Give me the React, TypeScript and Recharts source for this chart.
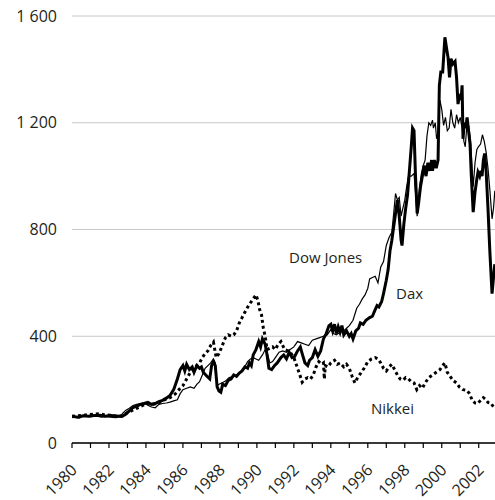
import React from "react";
import {
  LineChart,
  Line,
  XAxis,
  YAxis,
  CartesianGrid,
} from "recharts";

// index values, 1980 = 100 (x = decimal year)
const daxYears = [
  1980.0, 1980.3, 1980.6, 1980.9, 1981.2, 1981.5, 1981.8, 1982.1, 1982.4, 1982.7, 1982.9,
  1983.1, 1983.3, 1983.5, 1983.7, 1983.9, 1984.1, 1984.3, 1984.5, 1984.7, 1984.9,
  1985.1, 1985.3, 1985.5, 1985.7, 1985.85, 1986.0, 1986.1, 1986.2, 1986.35, 1986.5,
  1986.6, 1986.75, 1986.9, 1987.0, 1987.1, 1987.3, 1987.45, 1987.55, 1987.65, 1987.75,
  1987.85, 1987.95, 1988.05, 1988.15, 1988.3, 1988.45, 1988.6, 1988.75, 1988.9, 1989.05,
  1989.2, 1989.35, 1989.5, 1989.6, 1989.7, 1989.8, 1989.95, 1990.1, 1990.2, 1990.3,
  1990.45, 1990.55, 1990.65, 1990.8, 1990.95, 1991.1, 1991.3, 1991.45, 1991.6, 1991.75,
  1991.9, 1992.05, 1992.2, 1992.35, 1992.45, 1992.6, 1992.75, 1992.85, 1993.0, 1993.15,
  1993.3, 1993.45, 1993.6, 1993.75, 1993.9, 1994.0, 1994.1, 1994.2, 1994.3, 1994.4,
  1994.5, 1994.6, 1994.7, 1994.85, 1995.0, 1995.1, 1995.2, 1995.35, 1995.5, 1995.6,
  1995.75, 1995.9, 1996.1, 1996.25, 1996.4, 1996.5, 1996.6, 1996.75, 1996.85, 1997.0,
  1997.1, 1997.2, 1997.3, 1997.4, 1997.5, 1997.6, 1997.7, 1997.8, 1997.85, 1997.95,
  1998.05, 1998.15, 1998.25, 1998.35, 1998.42, 1998.5, 1998.58, 1998.67, 1998.75, 1998.85,
  1998.95, 1999.05, 1999.15, 1999.25, 1999.35, 1999.45, 1999.5, 1999.6, 1999.7, 1999.8,
  1999.87, 1999.95, 2000.05, 2000.17, 2000.28, 2000.34, 2000.42, 2000.5, 2000.6, 2000.72,
  2000.8, 2000.88, 2000.95, 2001.05, 2001.1, 2001.15, 2001.22, 2001.3, 2001.37, 2001.45,
  2001.53, 2001.6, 2001.7, 2001.8, 2001.9, 2001.96, 2002.05, 2002.12, 2002.18, 2002.25,
  2002.32, 2002.4, 2002.5, 2002.6, 2002.72, 2002.8, 2002.87,
];
const daxValues = [
  100, 97, 102, 100, 103, 104, 100, 103, 101, 99, 108,
  120, 133, 138, 145, 148, 152, 145, 148, 155, 160,
  168, 178, 200, 240, 275, 290, 270, 295, 275, 285,
  265, 290, 280, 285, 265, 250, 240, 290, 305, 290,
  210, 195, 190, 220, 215, 235, 240, 255, 250, 262,
  270, 285, 280, 300, 290, 330, 350, 380, 360, 390,
  370, 330, 280, 275, 290, 300, 320, 330, 315, 340,
  320, 325, 345, 360, 335, 300, 290, 310, 320, 350,
  325, 345, 390, 410, 440, 445, 420, 445, 410, 435,
  415, 440, 405, 420, 400, 410, 390, 420, 430, 450,
  445, 460, 470, 475, 500, 515, 510, 530, 560, 610,
  650, 720, 760, 810, 860, 910, 850, 760, 740, 820,
  880, 930, 1020, 1110, 1180, 1170, 1000, 860, 900, 960,
  1000, 1040, 1000, 1050, 1020, 1060, 1020, 1060, 1030, 1060,
  1340, 1390, 1390, 1520, 1470, 1445, 1370, 1440, 1420, 1430,
  1370, 1270, 1300, 1290, 1340, 1140, 1200, 1180, 1220, 1170,
  1120, 1000, 865, 940, 990, 1015, 1000, 1020, 1000, 1060,
  1085, 1020, 880, 720, 560, 620, 670,
];

const dowYears = [
  1980.0, 1980.2, 1980.4, 1980.6, 1980.8, 1981.0, 1981.2, 1981.4, 1981.6, 1981.8,
  1982.0, 1982.2, 1982.4, 1982.6, 1982.75, 1982.9, 1983.1, 1983.3, 1983.5, 1983.7,
  1983.9, 1984.1, 1984.3, 1984.5, 1984.7, 1984.9, 1985.1, 1985.3, 1985.5, 1985.7,
  1985.85, 1986.0, 1986.2, 1986.4, 1986.6, 1986.75, 1986.9, 1987.05, 1987.2, 1987.35,
  1987.5, 1987.65, 1987.75, 1987.85, 1987.95, 1988.1, 1988.3, 1988.5, 1988.7, 1988.9,
  1989.1, 1989.3, 1989.5, 1989.65, 1989.8, 1989.95, 1990.1, 1990.3, 1990.45, 1990.55,
  1990.7, 1990.85, 1991.0, 1991.2, 1991.4, 1991.6, 1991.8, 1992.0, 1992.2, 1992.4,
  1992.6, 1992.8, 1993.0, 1993.2, 1993.4, 1993.6, 1993.8, 1994.0, 1994.15, 1994.3,
  1994.5, 1994.7, 1994.85, 1995.0, 1995.2, 1995.4, 1995.55, 1995.7, 1995.85, 1996.0,
  1996.1, 1996.25, 1996.4, 1996.55, 1996.7, 1996.85, 1997.0, 1997.15, 1997.3, 1997.4,
  1997.5, 1997.6, 1997.7, 1997.8, 1997.9, 1998.0, 1998.1, 1998.2, 1998.35, 1998.5,
  1998.6, 1998.67, 1998.8, 1998.9, 1999.0, 1999.1, 1999.2, 1999.3, 1999.4, 1999.5,
  1999.55, 1999.65, 1999.72, 1999.8, 1999.9, 2000.0, 2000.1, 2000.2, 2000.3, 2000.4,
  2000.5, 2000.6, 2000.7, 2000.8, 2000.9, 2001.0, 2001.1, 2001.2, 2001.27, 2001.37,
  2001.45, 2001.55, 2001.6, 2001.7, 2001.8, 2001.9, 2001.98, 2002.1, 2002.2, 2002.3,
  2002.4, 2002.5, 2002.6, 2002.72, 2002.8, 2002.87,
];
const dowValues = [
  95, 98, 93, 100, 102, 98, 103, 100, 97, 100,
  98, 96, 95, 99, 112, 122, 130, 140, 145, 148,
  150, 142, 135, 132, 145, 148, 150, 153, 158, 162,
  185, 200, 205, 210, 205, 220, 230, 255, 280, 290,
  300, 315, 300, 215, 220, 225, 232, 245, 248, 255,
  265, 280, 305, 315, 320, 315, 310, 330, 350, 340,
  300, 305, 320, 340, 345, 340, 350, 360, 380, 375,
  370, 365, 385, 390, 395, 400, 405, 425, 410, 405,
  415, 420, 430, 440, 460, 505, 520, 540, 555, 580,
  615, 620, 625, 600, 660, 680, 740, 770, 790, 860,
  935, 910, 920, 850, 880, 910, 960, 1000, 1000, 1010,
  920, 850, 960, 1010, 1040, 1060, 1150, 1200, 1190, 1210,
  1180, 1200, 1140, 1160, 1285, 1250, 1190, 1220, 1170, 1180,
  1250, 1200, 1180, 1230, 1200, 1220, 1180, 1130, 1110, 1200,
  1190, 1140, 1080, 960, 1050, 1100, 1110, 1120, 1155, 1130,
  1090, 1030, 950, 840, 880, 945,
];

const nikkeiYears = [
  1980.0, 1980.3, 1980.6, 1980.9, 1981.2, 1981.5, 1981.8, 1982.1, 1982.4, 1982.7,
  1982.9, 1983.2, 1983.5, 1983.8, 1984.1, 1984.4, 1984.7, 1985.0, 1985.3, 1985.6,
  1985.85, 1986.0, 1986.2, 1986.4, 1986.6, 1986.75, 1986.9, 1987.05, 1987.2, 1987.35,
  1987.5, 1987.65, 1987.8, 1987.95, 1988.1, 1988.3, 1988.45, 1988.6, 1988.75, 1988.9,
  1989.05, 1989.2, 1989.35, 1989.55, 1989.75, 1989.95, 1990.05, 1990.15, 1990.25, 1990.35,
  1990.45, 1990.55, 1990.7, 1990.85, 1991.0, 1991.15, 1991.3, 1991.5, 1991.7, 1991.85,
  1992.0, 1992.15, 1992.3, 1992.45, 1992.6, 1992.75, 1992.9, 1993.05, 1993.2, 1993.35,
  1993.5, 1993.6, 1993.65, 1993.7, 1993.85, 1994.0, 1994.2, 1994.35, 1994.5, 1994.7,
  1994.85, 1995.0, 1995.15, 1995.3, 1995.45, 1995.6, 1995.8, 1996.0, 1996.2, 1996.4,
  1996.55, 1996.7, 1996.85, 1997.0, 1997.15, 1997.3, 1997.45, 1997.6, 1997.75, 1997.9,
  1998.05, 1998.2, 1998.35, 1998.5, 1998.65, 1998.8, 1998.95, 1999.1, 1999.3, 1999.5,
  1999.7, 1999.9, 2000.05, 2000.17, 2000.3, 2000.45, 2000.6, 2000.8, 2000.95, 2001.15,
  2001.35, 2001.5, 2001.65, 2001.8, 2001.95, 2002.1, 2002.25, 2002.35, 2002.5, 2002.65,
  2002.75, 2002.87,
];
const nikkeiValues = [
  100, 102, 104, 107, 108, 110, 105, 104, 100, 102,
  110, 120, 130, 140, 150, 145, 150, 162, 170, 185,
  205, 215, 240, 265, 280, 290, 300, 320, 335, 345,
  365, 378, 320, 335, 360, 395, 405, 400, 405, 420,
  450, 470, 490, 515, 535, 555, 535, 500, 480, 430,
  400, 350, 355, 360, 350, 370, 380, 350, 345, 335,
  320, 290, 260, 228, 240, 245, 240, 255, 285, 305,
  295, 300, 240, 290, 285, 300, 310, 295, 300, 285,
  295, 280, 250, 225, 245, 260, 280, 305, 315, 320,
  315, 300, 280, 270, 285, 295, 275, 255, 240, 235,
  245, 240, 230, 225, 200, 215, 205, 225, 245, 255,
  265, 275, 290, 300, 265, 250, 235, 225, 210, 200,
  198, 185, 160, 150, 148, 160, 170, 165, 152, 150,
  140, 130,
];

const yearTicks = [
  1980, 1981, 1982, 1983, 1984, 1985, 1986, 1987, 1988, 1989, 1990, 1991,
  1992, 1993, 1994, 1995, 1996, 1997, 1998, 1999, 2000, 2001, 2002,
];
const valueTicks = [0, 400, 800, 1200, 1600];

const toRows = (xs: number[], vs: number[]) => xs.map((x, i) => ({ x, v: vs[i] }));
const dax = toRows(daxYears, daxValues);
const dow = toRows(dowYears, dowValues);
const nikkei = toRows(nikkeiYears, nikkeiValues);

const W = 495;
const H = 500;
const AXIS_H = 57;
const font = "'Open Sans', 'DejaVu Sans', sans-serif";
const textColor = "#231f20";

function fmt(v: number) {
  return v >= 1000 ? `${Math.floor(v / 1000)} ${String(v % 1000).padStart(3, "0")}` : String(v);
}

// rotated year labels, only every second year; their top right corner sits just below the tick
function YearTick({ x, payload }: any) {
  if (payload.value % 2 !== 0) return null;
  const tx = x + 6;
  const ty = H - AXIS_H + 28;
  return (
    <text
      x={tx}
      y={ty}
      transform={`rotate(-45, ${tx}, ${ty})`}
      textAnchor="end"
      fontSize={16}
      fontFamily={font}
      fill={textColor}
    >
      {payload.value}
    </text>
  );
}

function SeriesLabel({ left, top, text }: { left: number; top: number; text: string }) {
  return (
    <div
      style={{
        position: "absolute",
        left,
        top,
        fontFamily: font,
        fontSize: 15,
        lineHeight: "15px",
        color: textColor,
        whiteSpace: "nowrap",
      }}
    >
      {text}
    </div>
  );
}

export default function App() {
  return (
    <div style={{ position: "absolute", left: 0, top: 0, width: W, height: H, background: "#fff" }}>
      <LineChart width={W} height={H} margin={{ top: 16, right: 0, bottom: 0, left: 0 }}>
        <CartesianGrid vertical={false} stroke="#c8c8c8" strokeWidth={1} />
        <XAxis
          type="number"
          dataKey="x"
          domain={[1980, 2002.88]}
          ticks={yearTicks}
          interval={0}
          height={AXIS_H}
          tickSize={5}
          tickLine={{ stroke: "#000", strokeWidth: 1.2 }}
          axisLine={{ stroke: "#000", strokeWidth: 1.5 }}
          tick={<YearTick />}
          allowDataOverflow
        />
        <YAxis
          type="number"
          domain={[0, 1600]}
          ticks={valueTicks}
          width={72}
          axisLine={false}
          tickLine={false}
          tickMargin={9}
          tickFormatter={fmt}
          tick={{ fontSize: 16, fontFamily: font, fill: textColor }}
        />
        <Line
          data={nikkei}
          dataKey="v"
          type="linear"
          stroke="#000"
          strokeWidth={3}
          strokeDasharray="3 3"
          dot={false}
          isAnimationActive={false}
        />
        <Line
          data={dow}
          dataKey="v"
          type="linear"
          stroke="#000"
          strokeWidth={1.2}
          dot={false}
          isAnimationActive={false}
        />
        <Line
          data={dax}
          dataKey="v"
          type="linear"
          stroke="#000"
          strokeWidth={3}
          strokeLinejoin="miter"
          dot={false}
          isAnimationActive={false}
        />
      </LineChart>
      <SeriesLabel left={289} top={250} text="Dow Jones" />
      <SeriesLabel left={396} top={286} text="Dax" />
      <SeriesLabel left={371} top={401} text="Nikkei" />
    </div>
  );
}
